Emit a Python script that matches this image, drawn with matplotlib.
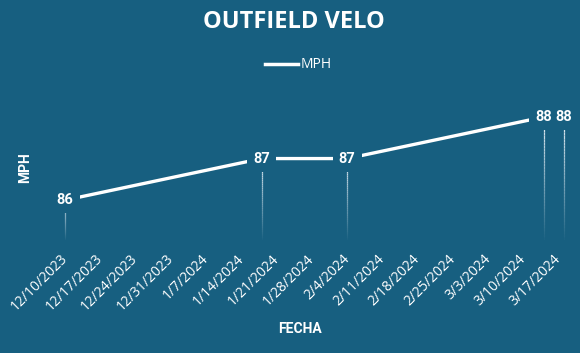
import matplotlib
matplotlib.use("Agg")
import matplotlib.pyplot as plt
import matplotlib.dates as mdates
from matplotlib.collections import LineCollection
from matplotlib.lines import Line2D
import numpy as np
import pandas as pd

# ---- data ----
dates = ["2023-12-10", "2024-01-18", "2024-02-04", "2024-03-14", "2024-03-18"]
mph = [86, 87, 87, 88, 88]
series_name = "MPH"
title = "OUTFIELD VELO"
x_title = "FECHA"
y_title = "MPH"

BG = "#175f80"
FG = "white"

d = pd.to_datetime(dates)
xnum = mdates.date2num(d)

fig = plt.figure(figsize=(5.8, 3.53), dpi=100, facecolor=BG)
W, H = 580, 353
ax_l, ax_r, ax_t, ax_b = 45, 575, 90, 240
ax = fig.add_axes([ax_l / W, 1 - ax_b / H, (ax_r - ax_l) / W, (ax_b - ax_t) / H])
ax.set_facecolor(BG)

x0 = mdates.date2num(pd.Timestamp("2023-12-10"))
ppd = 5.034
ax.set_xlim(x0 - (65.3 - ax_l) / ppd, x0 + (ax_r - 65.3) / ppd)
ax.set_ylim(85.04, 88.65)

# gradient drop lines
ybot = ax.get_ylim()[0]
n = 40
segs, cols = [], []
for xv, yv in zip(xnum, mph):
    ys = np.linspace(yv, ybot, n + 1)
    for i in range(n):
        segs.append([(xv, ys[i]), (xv, ys[i + 1])])
        cols.append((0.9, 0.94, 0.97, 1.0 * (1 - i / n)))
lc = LineCollection(segs, colors=cols, linewidths=0.9, zorder=2)
ax.add_collection(lc)

ax.plot(xnum, mph, color=FG, lw=2.4, solid_capstyle="butt", zorder=3)

for xv, yv in zip(xnum, mph):
    ax.text(xv, yv, f"{yv:.0f}", ha="center", va="center", color="none",
            fontsize=10.5, fontweight="bold", family="Roboto", zorder=4,
            bbox=dict(boxstyle="square,pad=0.42", facecolor=BG, edgecolor="none"))
for xv, yv in zip(xnum, mph):
    ax.text(xv, yv, f"{yv:.0f}", ha="center", va="center", color=FG,
            fontsize=10.5, fontweight="bold", family="Roboto", zorder=5)

ax.xaxis.set_major_locator(mdates.WeekdayLocator(byweekday=mdates.SU))
ax.xaxis.set_major_formatter(plt.FuncFormatter(
    lambda v, p: (lambda t: f"{t.month}/{t.day}/{t.year}")(mdates.num2date(v))))
ax.tick_params(axis="x", length=0, pad=12, colors=FG, labelsize=10)
for lab in ax.get_xticklabels():
    lab.set_rotation(45)
    lab.set_ha("right")
    lab.set_va("center")
    lab.set_rotation_mode("anchor")
    lab.set_family("Open Sans")
ax.set_yticks([])
for s in ax.spines.values():
    s.set_visible(False)

ax.set_xlabel(x_title, color=FG, fontsize=10, fontweight="bold", family="Roboto", va="center")
ax.xaxis.set_label_coords((300 - ax_l) / (ax_r - ax_l), -(329 - ax_b) / (ax_b - ax_t))
ax.set_ylabel(y_title, color=FG, fontsize=10, fontweight="bold", family="Roboto", va="center")
ax.yaxis.set_label_coords(-(ax_l - 25) / (ax_r - ax_l), (ax_b - 168) / (ax_b - ax_t))

fig.text(293.5 / W, 1 - 22 / H, title, ha="center", va="center", color=FG,
         fontsize=17, fontweight="bold", family="Open Sans")

h = Line2D([], [], color=FG, lw=2.5)
leg = fig.legend([h], [series_name], loc="center", bbox_to_anchor=(298.5 / W, 1 - 65 / H),
                 frameon=False, handlelength=2.4, handletextpad=0.2,
                 prop={"family": "Open Sans", "size": 10})
for t in leg.get_texts():
    t.set_color(FG)

fig.savefig("out.png", dpi=100, facecolor=BG)
